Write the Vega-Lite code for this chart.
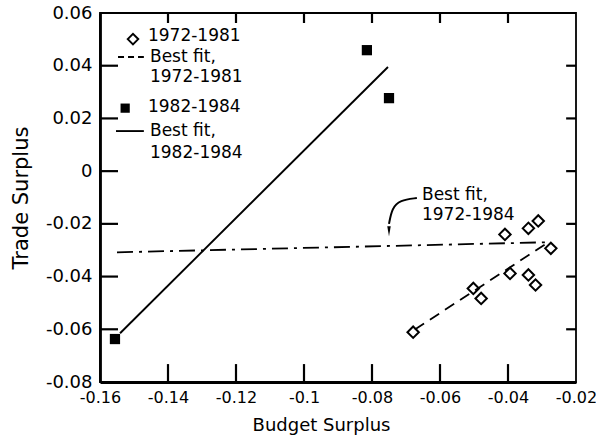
{
  "$schema": "https://vega.github.io/schema/vega-lite/v6.json",
  "width": 476,
  "height": 369,
  "autosize": {"type": "none"},
  "padding": {"left": 100, "top": 13, "right": 20, "bottom": 62},
  "background": "white",
  "config": {
    "font": "DejaVu Sans",
    "view": {"stroke": "black", "strokeWidth": 1.8},
    "axis": {"grid": false, "ticks": false, "domainColor": "black", "labelColor": "black", "titleColor": "black", "titleFontWeight": "normal", "domainWidth": 2.8}
  },
  "datasets": {
    "points": [
      {"period": "1972-1981", "x": -0.0679, "y": -0.0611},
      {"period": "1972-1981", "x": -0.0502, "y": -0.0445},
      {"period": "1972-1981", "x": -0.0479, "y": -0.0483},
      {"period": "1972-1981", "x": -0.0394, "y": -0.0388},
      {"period": "1972-1981", "x": -0.0409, "y": -0.0240},
      {"period": "1972-1981", "x": -0.0340, "y": -0.0217},
      {"period": "1972-1981", "x": -0.0311, "y": -0.0189},
      {"period": "1972-1981", "x": -0.0274, "y": -0.0293},
      {"period": "1972-1981", "x": -0.0340, "y": -0.0394},
      {"period": "1972-1981", "x": -0.0319, "y": -0.0432},
      {"period": "1982-1984", "x": -0.1556, "y": -0.0637},
      {"period": "1982-1984", "x": -0.0815, "y": 0.0459},
      {"period": "1982-1984", "x": -0.0750, "y": 0.0277}
    ],
    "legendpts": [
      {"period": "1972-1981", "x": -0.1503, "y": 0.0501},
      {"period": "1982-1984", "x": -0.1526, "y": 0.0239}
    ],
    "lines": [
      {"style": "dash", "id": "fit81", "x": -0.0674, "y": -0.0601},
      {"style": "dash", "id": "fit81", "x": -0.0291, "y": -0.0278},
      {"style": "legdash", "id": "leg81", "x": -0.1547, "y": 0.0433},
      {"style": "legdash", "id": "leg81", "x": -0.1471, "y": 0.0433},
      {"style": "solid", "id": "fit84", "x": -0.1541, "y": -0.0615},
      {"style": "solid", "id": "fit84", "x": -0.0753, "y": 0.0395},
      {"style": "solid", "id": "leg84", "x": -0.1553, "y": 0.0152},
      {"style": "solid", "id": "leg84", "x": -0.1471, "y": 0.0152},
      {"style": "dashdot", "id": "fitall", "x": -0.1550, "y": -0.0308},
      {"style": "dashdot", "id": "fitall", "x": -0.0291, "y": -0.0270}
    ],
    "ticks": [
      {"id": "b1", "x": -0.14, "y": -0.08}, {"id": "b1", "x": -0.14, "y": -0.0732},
      {"id": "b2", "x": -0.12, "y": -0.08}, {"id": "b2", "x": -0.12, "y": -0.0732},
      {"id": "b3", "x": -0.1, "y": -0.08}, {"id": "b3", "x": -0.1, "y": -0.0732},
      {"id": "b4", "x": -0.08, "y": -0.08}, {"id": "b4", "x": -0.08, "y": -0.0732},
      {"id": "b5", "x": -0.06, "y": -0.08}, {"id": "b5", "x": -0.06, "y": -0.0732},
      {"id": "b6", "x": -0.04, "y": -0.08}, {"id": "b6", "x": -0.04, "y": -0.0732},
      {"id": "t1", "x": -0.14, "y": 0.06}, {"id": "t1", "x": -0.14, "y": 0.0562},
      {"id": "t2", "x": -0.12, "y": 0.06}, {"id": "t2", "x": -0.12, "y": 0.0562},
      {"id": "t3", "x": -0.1, "y": 0.06}, {"id": "t3", "x": -0.1, "y": 0.0562},
      {"id": "t4", "x": -0.08, "y": 0.06}, {"id": "t4", "x": -0.08, "y": 0.0562},
      {"id": "t5", "x": -0.06, "y": 0.06}, {"id": "t5", "x": -0.06, "y": 0.0562},
      {"id": "t6", "x": -0.04, "y": 0.06}, {"id": "t6", "x": -0.04, "y": 0.0562},
      {"id": "l1", "x": -0.16, "y": -0.06}, {"id": "l1", "x": -0.1547, "y": -0.06},
      {"id": "l2", "x": -0.16, "y": -0.04}, {"id": "l2", "x": -0.1547, "y": -0.04},
      {"id": "l3", "x": -0.16, "y": -0.02}, {"id": "l3", "x": -0.1547, "y": -0.02},
      {"id": "l4", "x": -0.16, "y": 0}, {"id": "l4", "x": -0.1547, "y": 0},
      {"id": "l5", "x": -0.16, "y": 0.02}, {"id": "l5", "x": -0.1547, "y": 0.02},
      {"id": "l6", "x": -0.16, "y": 0.04}, {"id": "l6", "x": -0.1547, "y": 0.04},
      {"id": "r1", "x": -0.02, "y": -0.06}, {"id": "r1", "x": -0.0229, "y": -0.06},
      {"id": "r2", "x": -0.02, "y": -0.04}, {"id": "r2", "x": -0.0229, "y": -0.04},
      {"id": "r3", "x": -0.02, "y": -0.02}, {"id": "r3", "x": -0.0229, "y": -0.02},
      {"id": "r4", "x": -0.02, "y": 0}, {"id": "r4", "x": -0.0229, "y": 0},
      {"id": "r5", "x": -0.02, "y": 0.02}, {"id": "r5", "x": -0.0229, "y": 0.02},
      {"id": "r6", "x": -0.02, "y": 0.04}, {"id": "r6", "x": -0.0229, "y": 0.04}
    ],
    "arrow": [
      {"x": -0.0668, "y": -0.0102},
      {"x": -0.0718, "y": -0.0110},
      {"x": -0.0741, "y": -0.0140},
      {"x": -0.0750, "y": -0.0200}
    ],
    "arrowhead": [
      {"x": -0.0750, "y": -0.0228}
    ],
    "texts": [
      {"x": -0.1459, "y": 0.0512, "text": "1972-1981"},
      {"x": -0.1453, "y": 0.0433, "text": "Best fit,"},
      {"x": -0.1453, "y": 0.0358, "text": "1972-1981"},
      {"x": -0.1459, "y": 0.0243, "text": "1982-1984"},
      {"x": -0.1453, "y": 0.0152, "text": "Best fit,"},
      {"x": -0.1453, "y": 0.0068, "text": "1982-1984"},
      {"x": -0.0653, "y": -0.0091, "text": "Best fit,"},
      {"x": -0.0653, "y": -0.0168, "text": "1972-1984"}
    ]
  },
  "layer": [
    {
      "data": {"name": "lines"},
      "transform": [{"filter": "datum.style === 'solid'"}],
      "mark": {"type": "line", "color": "black", "strokeWidth": 1.9},
      "encoding": {
        "x": {"field": "x", "type": "quantitative", "scale": {"domain": [-0.16, -0.02], "nice": false, "zero": false},
          "axis": {"orient": "bottom", "values": [-0.16, -0.14, -0.12, -0.1, -0.08, -0.06, -0.04, -0.02], "labelExpr": "replace(format(datum.value, '~g'), '\u2212', '-')", "labelFontSize": 16, "labelPadding": 7, "title": "Budget Surplus", "titleFontSize": 18, "titlePadding": 11, "titleX": 221, "labelFlush": false}},
        "y": {"field": "y", "type": "quantitative", "scale": {"domain": [-0.08, 0.06], "nice": false, "zero": false},
          "axis": {"orient": "left", "values": [-0.08, -0.06, -0.04, -0.02, 0, 0.02, 0.04, 0.06], "labelExpr": "replace(format(datum.value, '~g'), '\u2212', '-')", "labelFontSize": 18, "labelPadding": 8, "title": "Trade Surplus", "titleFontSize": 21, "titlePadding": 14, "labelFlush": false}},
        "detail": {"field": "id"}
      }
    },
    {
      "data": {"name": "ticks"},
      "mark": {"type": "line", "color": "black", "strokeWidth": 2.2},
      "encoding": {
        "x": {"field": "x", "type": "quantitative"},
        "y": {"field": "y", "type": "quantitative"},
        "detail": {"field": "id"}
      }
    },
    {
      "data": {"name": "lines"},
      "transform": [{"filter": "datum.style === 'dash'"}],
      "mark": {"type": "line", "color": "black", "strokeWidth": 1.8, "strokeDash": [11, 7]},
      "encoding": {
        "x": {"field": "x", "type": "quantitative"},
        "y": {"field": "y", "type": "quantitative"},
        "detail": {"field": "id"}
      }
    },
    {
      "data": {"name": "lines"},
      "transform": [{"filter": "datum.style === 'legdash'"}],
      "mark": {"type": "line", "color": "black", "strokeWidth": 1.8, "strokeDash": [6, 4]},
      "encoding": {
        "x": {"field": "x", "type": "quantitative"},
        "y": {"field": "y", "type": "quantitative"},
        "detail": {"field": "id"}
      }
    },
    {
      "data": {"name": "lines"},
      "transform": [{"filter": "datum.style === 'dashdot'"}],
      "mark": {"type": "line", "color": "black", "strokeWidth": 1.8, "strokeDash": [16, 6, 3, 6]},
      "encoding": {
        "x": {"field": "x", "type": "quantitative"},
        "y": {"field": "y", "type": "quantitative"},
        "detail": {"field": "id"}
      }
    },
    {
      "data": {"name": "arrow"},
      "mark": {"type": "line", "color": "black", "strokeWidth": 2, "interpolate": "basis"},
      "encoding": {
        "x": {"field": "x", "type": "quantitative"},
        "y": {"field": "y", "type": "quantitative"},
        "order": {"field": "y", "sort": "descending"}
      }
    },
    {
      "data": {"name": "arrowhead"},
      "mark": {"type": "point", "shape": "M-0.35,-1L0.35,-1L0,1Z", "filled": true, "color": "black", "size": 100, "opacity": 1},
      "encoding": {
        "x": {"field": "x", "type": "quantitative"},
        "y": {"field": "y", "type": "quantitative"}
      }
    },
    {
      "data": {"name": "points"},
      "transform": [{"filter": "datum.period === '1972-1981'"}],
      "mark": {"type": "point", "shape": "diamond", "filled": false, "color": "black", "strokeWidth": 2, "size": 130, "opacity": 1},
      "encoding": {
        "x": {"field": "x", "type": "quantitative"},
        "y": {"field": "y", "type": "quantitative"}
      }
    },
    {
      "data": {"name": "legendpts"},
      "transform": [{"filter": "datum.period === '1972-1981'"}],
      "mark": {"type": "point", "shape": "diamond", "filled": false, "color": "black", "strokeWidth": 2, "size": 110, "opacity": 1},
      "encoding": {
        "x": {"field": "x", "type": "quantitative"},
        "y": {"field": "y", "type": "quantitative"}
      }
    },
    {
      "data": {"name": "points"},
      "transform": [{"filter": "datum.period === '1982-1984'"}],
      "mark": {"type": "point", "shape": "square", "filled": true, "color": "black", "size": 105, "opacity": 1},
      "encoding": {
        "x": {"field": "x", "type": "quantitative"},
        "y": {"field": "y", "type": "quantitative"}
      }
    },
    {
      "data": {"name": "legendpts"},
      "transform": [{"filter": "datum.period === '1982-1984'"}],
      "mark": {"type": "point", "shape": "square", "filled": true, "color": "black", "size": 85, "opacity": 1},
      "encoding": {
        "x": {"field": "x", "type": "quantitative"},
        "y": {"field": "y", "type": "quantitative"}
      }
    },
    {
      "data": {"name": "texts"},
      "mark": {"type": "text", "align": "left", "baseline": "middle", "fontSize": 17, "color": "black"},
      "encoding": {
        "x": {"field": "x", "type": "quantitative"},
        "y": {"field": "y", "type": "quantitative"},
        "text": {"field": "text"}
      }
    }
  ]
}
